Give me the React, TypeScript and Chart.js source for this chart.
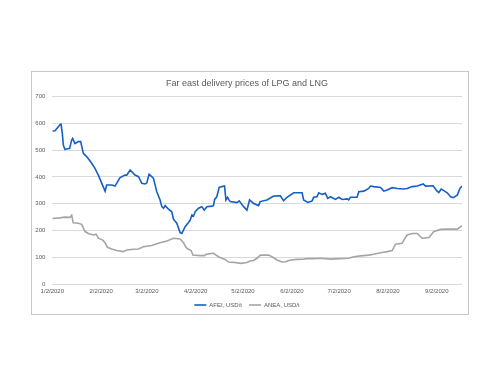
import React, { useEffect, useRef } from "react";
import { Chart, registerables } from "chart.js";

Chart.register(...registerables);

// Day offsets from 1/2/2020
const monthDays = [0, 31, 60, 91, 121, 152, 182, 213, 244];
const monthLabels = ["1/2/2020", "2/2/2020", "3/2/2020", "4/2/2020", "5/2/2020", "6/2/2020", "7/2/2020", "8/2/2020", "9/2/2020"];

const afeiDays = [0, 1.7, 5, 5.5, 6.4, 7, 8, 11, 12.3, 12.9, 14.4, 16.5, 18, 19.7, 21.8, 25, 27.1, 29.2, 31.4, 33.5, 34.5, 37.7, 39.8, 43, 46.2, 47.2, 49.4, 52.5, 54.7, 56.8, 58.9, 60, 61.4, 63.1, 64.2, 66.3, 68.4, 69.5, 70.6, 71.6, 73.7, 75.8, 76.9, 79, 81.1, 82.2, 84.3, 86.4, 87.5, 88.6, 89.6, 90.7, 92.8, 94.9, 96.4, 98.1, 101.3, 102.3, 103, 104.4, 105.9, 107.6, 109.3, 110.2, 111.2, 111.9, 112.9, 117.2, 118.6, 121.4, 123.5, 125.2, 127.8, 130.9, 131.9, 136.2, 140.5, 144.7, 146.8, 148.9, 153.2, 158.5, 159.5, 162.1, 164.8, 165.9, 168, 169.1, 171.2, 173.3, 174.8, 176.5, 179.7, 181.8, 183.9, 187.1, 188.1, 189.2, 193.4, 194.5, 197.7, 200.8, 201.9, 204, 208.3, 210.4, 212.5, 215.7, 218.9, 223.1, 225.2, 228.4, 231.6, 235.4, 236.9, 241.7, 243.9, 245.3, 246.8, 248.5, 250.6, 252.8, 254.4, 257, 258.7, 260];
const afeiValues = [572, 573, 596, 600, 560, 519, 503, 507, 538, 544, 525, 532, 532, 488, 476, 451, 432, 407, 376, 347, 370, 370, 366, 398, 407, 407, 426, 407, 401, 376, 374, 378, 410, 401, 395, 345, 314, 289, 283, 293, 280, 270, 242, 227, 192, 189, 214, 230, 239, 258, 254, 270, 283, 289, 276, 289, 291, 293, 316, 326, 361, 364, 366, 314, 324, 316, 308, 304, 311, 289, 276, 314, 301, 293, 308, 314, 329, 330, 311, 324, 341, 341, 314, 305, 310, 324, 326, 341, 335, 339, 320, 326, 316, 324, 316, 318, 314, 324, 324, 345, 347, 357, 366, 364, 361, 347, 351, 360, 357, 355, 357, 364, 366, 374, 366, 367, 349, 342, 355, 349, 341, 326, 323, 332, 357, 366];

const aneaDays = [0, 4.9, 8, 11.2, 12.3, 13.3, 16.5, 18.6, 20.8, 22.9, 26.1, 27.8, 29.2, 32, 33.5, 35, 37.7, 40.9, 45.1, 47.2, 51.5, 54.7, 57.8, 63.1, 68.4, 72.7, 76.9, 81.1, 83.3, 85, 86.4, 88.1, 89.2, 93.9, 96.6, 97.5, 102.3, 105.5, 107.6, 109.7, 111.9, 115, 119.3, 123.5, 125.6, 127.8, 130.3, 132, 137.3, 139.4, 142.6, 145.8, 147.9, 151.1, 155.3, 159.5, 161.7, 165.9, 170.1, 176.5, 182.8, 188.1, 191.3, 195.6, 200.8, 204, 208.3, 212.5, 215.7, 217.8, 222, 223.1, 225.2, 228.4, 231.6, 234.7, 239, 242.2, 246.4, 250.6, 257, 260];
const aneaValues = [245, 247, 250, 249, 257, 229, 227, 223, 196, 189, 183, 186, 171, 164, 154, 137, 131, 125, 121, 127, 130, 131, 139, 144, 154, 161, 171, 168, 154, 136, 130, 125, 108, 106, 106, 111, 115, 102, 96, 92, 82, 81, 77, 80, 86, 88, 98, 108, 108, 102, 90, 82, 83, 90, 92, 93, 95, 95, 96, 93, 95, 96, 102, 105, 108, 111, 117, 121, 125, 149, 152, 164, 183, 189, 189, 171, 174, 196, 204, 205, 205, 218];

const FONT = "'Liberation Sans', Arial, sans-serif";
const TEXT = "#595959";

export default function App() {
  const ref = useRef<HTMLCanvasElement | null>(null);
  useEffect(() => {
    if (!ref.current) return;
    const chart = new Chart(ref.current, {
      type: "line",
      data: {
        datasets: [
          {
            label: "AFEI, USD/t",
            data: afeiDays.map((d, i) => ({ x: d, y: afeiValues[i] })),
            borderColor: "#165FC6",
            backgroundColor: "#165FC6",
            borderWidth: 1.6,
            pointRadius: 0,
            pointStyle: "line",
            tension: 0,
          },
          {
            label: "ANEA, USD/t",
            data: aneaDays.map((d, i) => ({ x: d, y: aneaValues[i] })),
            borderColor: "#A5A5A5",
            backgroundColor: "#A5A5A5",
            borderWidth: 1.6,
            pointRadius: 0,
            pointStyle: "line",
            tension: 0,
          },
        ],
      },
      options: {
        animation: false,
        responsive: false,
        maintainAspectRatio: false,
        layout: { padding: { left: 0, right: 6, top: 0, bottom: 0 } },
        plugins: {
          tooltip: { enabled: false },
          title: {
            display: true,
            text: "Far east delivery prices of LPG and LNG",
            color: TEXT,
            font: { family: FONT, size: 9, weight: "normal" },
            padding: { top: 6.6, bottom: 7.3 },
          },
          legend: {
            position: "bottom",
            labels: {
              usePointStyle: true,
              pointStyleWidth: 12,
              boxHeight: 6,
              color: TEXT,
              font: { family: FONT, size: 6 },
              padding: 7,
            },
          },
        },
        scales: {
          x: {
            type: "linear",
            min: 0,
            max: 260,
            grid: { display: false, drawTicks: false },
            border: { display: false },
            afterBuildTicks: (scale: any) => {
              scale.ticks = monthDays.map((v) => ({ value: v }));
            },
            afterFit: (scale: any) => {
              scale.height = 11;
            },
            ticks: {
              autoSkip: false,
              maxRotation: 0,
              color: TEXT,
              font: { family: FONT, size: 6 },
              padding: 4,
              callback: (v: any) => {
                const i = monthDays.indexOf(Number(v));
                return i >= 0 ? monthLabels[i] : "";
              },
            },
          },
          y: {
            min: 0,
            max: 700,
            grid: { color: "#D9D9D9", lineWidth: 1, drawTicks: false },
            border: { display: false },
            afterFit: (scale: any) => {
              scale.width = 20.3;
            },
            ticks: {
              stepSize: 100,
              color: TEXT,
              font: { family: FONT, size: 6 },
              padding: 7,
            },
          },
        },
      },
    });
    return () => chart.destroy();
  }, []);
  return (
    <div
      style={{
        position: "absolute",
        left: 31,
        top: 71,
        width: 436,
        height: 242,
        border: "1px solid #C8C8C8",
        background: "#fff",
      }}
    >
      <canvas ref={ref} width={436} height={246} style={{ display: "block", width: 436, height: 246 }} />
    </div>
  );
}
